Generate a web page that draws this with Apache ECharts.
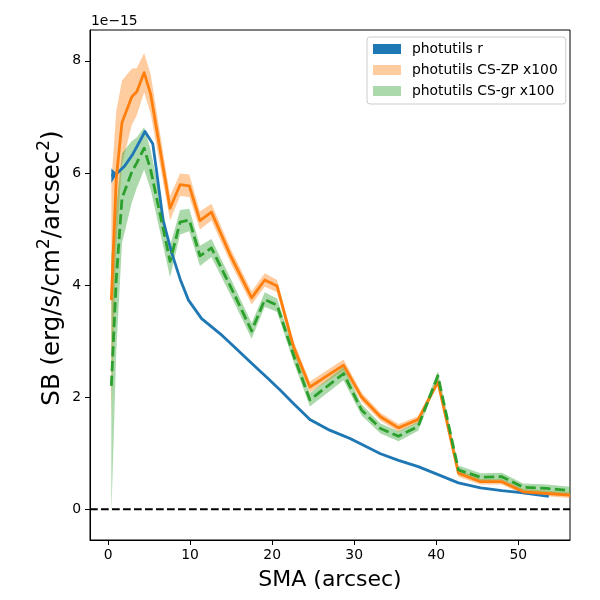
<!DOCTYPE html>
<html><head><meta charset="utf-8">
<script src="https://cdn.jsdelivr.net/npm/echarts@6/dist/echarts.min.js"></script>
<style>html,body{margin:0;padding:0;background:#fff}#c{width:600px;height:600px}</style>
</head><body><div id="c"></div>
<script>
// SMA (arcsec) for the CS profiles
const smaCS = [0.4, 1.0, 1.7, 2.9, 3.5, 4.4, 5.2, 7.56, 8.78, 9.9, 11.2, 12.6, 15.0, 17.5, 19.1, 20.6, 22.6, 24.6, 28.7, 30.9, 33.2, 35.4, 37.8, 40.2, 42.7, 45.4, 48.0, 50.6, 53.5, 56.3];
// photutils CS-ZP x100 (units of 1e-15)
const sbZP = [3.73, 5.9, 6.9, 7.36, 7.45, 7.79, 7.4, 5.37, 5.79, 5.77, 5.15, 5.3, 4.5, 3.77, 4.09, 3.98, 2.9, 2.18, 2.57, 2.0, 1.65, 1.45, 1.6, 2.27, 0.64, 0.49, 0.49, 0.31, 0.28, 0.25];
const errZP = [2.1, 1.2, 0.75, 0.5, 0.42, 0.35, 0.35, 0.22, 0.2, 0.2, 0.16, 0.15, 0.13, 0.12, 0.12, 0.11, 0.1, 0.1, 0.1, 0.08, 0.07, 0.07, 0.06, 0.06, 0.06, 0.05, 0.05, 0.05, 0.05, 0.05];
// photutils CS-gr x100
const sbGR = [2.2, 4.1, 5.55, 6.02, 6.18, 6.44, 6.05, 4.42, 5.12, 5.16, 4.52, 4.66, 3.95, 3.18, 3.74, 3.64, 2.75, 1.95, 2.42, 1.77, 1.44, 1.3, 1.48, 2.38, 0.7, 0.57, 0.58, 0.39, 0.37, 0.33];
const errGR = [2.3, 1.3, 0.8, 0.55, 0.45, 0.38, 0.35, 0.28, 0.22, 0.2, 0.18, 0.16, 0.15, 0.14, 0.13, 0.12, 0.12, 0.12, 0.12, 0.1, 0.09, 0.09, 0.08, 0.08, 0.08, 0.07, 0.07, 0.07, 0.07, 0.07];
// photutils r
const smaR = [0.4, 1.0, 2.0, 3.0, 4.0, 4.5, 5.45, 5.9, 6.7, 7.77, 8.8, 9.8, 11.4, 13.9, 15.5, 17.3, 19.5, 21.0, 22.5, 24.6, 27.0, 29.5, 33.2, 35.4, 37.8, 40.0, 42.7, 45.4, 48.0, 50.6, 53.7];
const sbR = [5.95, 5.98, 6.12, 6.33, 6.6, 6.74, 6.52, 6.05, 5.16, 4.57, 4.1, 3.73, 3.4, 3.1, 2.88, 2.63, 2.33, 2.12, 1.9, 1.6, 1.41, 1.26, 0.99, 0.87, 0.76, 0.63, 0.47, 0.38, 0.33, 0.29, 0.23];
const errR = [0.13, 0.02, 0.02, 0.02, 0.02, 0.02, 0.02, 0.02, 0.02, 0.02, 0.02, 0.02, 0.02, 0.02, 0.02, 0.02, 0.02, 0.02, 0.02, 0.02, 0.02, 0.02, 0.01, 0.01, 0.01, 0.01, 0.01, 0.01, 0.01, 0.01, 0.01];
const xTicks = [0, 10, 20, 30, 40, 50];
const yTicks = [0, 2, 4, 6, 8];
const legendNames = ['photutils r', 'photutils CS-ZP x100', 'photutils CS-gr x100'];

const X_MIN = -2.2, X_MAX = 56.3, Y_MIN = -0.55, Y_MAX = 8.55;
const FONT = 'DejaVu Sans';
const C_BLUE = '#1f77b4', C_ORANGE = '#ff7f0e', C_GREEN = '#2ca02c';

function bandSeries(name, color, xs, ys, es) {
  const data = xs.map((x, i) => [x, ys[i] - es[i], ys[i] + es[i]]);
  return {
    type: 'custom', name: name, silent: true, clip: true,
    itemStyle: { color: color },
    encode: { x: 0, y: [1, 2] },
    data: data,
    renderItem: function (params, api) {
      if (params.dataIndex !== 0) return null;
      const upper = data.map(d => api.coord([d[0], d[2]]));
      const lower = data.map(d => api.coord([d[0], d[1]])).reverse();
      return { type: 'polygon', shape: { points: upper.concat(lower) }, style: { fill: color } };
    }
  };
}
function lineSeries(name, color, xs, ys, dash) {
  return {
    type: 'line', name: name, silent: true, symbol: 'none', showSymbol: false,
    data: xs.map((x, i) => [x, ys[i]]),
    lineStyle: { color: color, width: 2.8, type: dash || 'solid', cap: 'butt', join: 'round' },
    emphasis: { disabled: true }
  };
}

const chart = echarts.init(document.getElementById('c'), null, { renderer: 'canvas' });
const zeroLine = lineSeries('zero', '#000', [X_MIN, X_MAX], [0, 0]);
zeroLine.lineStyle.width = 2.1;
zeroLine.lineStyle.type = [7.7, 3.3];

const labelRich = {
  b: { fontSize: 24.5, fontFamily: FONT, color: '#000', lineHeight: 29, verticalAlign: 'bottom' },
  s: { fontSize: 17, fontFamily: FONT, color: '#000', lineHeight: 29, verticalAlign: 'top' }
};

chart.setOption({
  animation: false,
  backgroundColor: '#fff',
  grid: { left: 90, right: 30, top: 30, bottom: 60, show: true, borderColor: '#000', borderWidth: 1, backgroundColor: 'transparent' },
  xAxis: {
    type: 'value', min: X_MIN, max: X_MAX,
    axisLine: { show: true, onZero: false, lineStyle: { color: '#000', width: 1 } },
    axisTick: { show: true, customValues: xTicks, length: 5, lineStyle: { color: '#000', width: 1 } },
    axisLabel: { show: true, customValues: xTicks, color: '#000', fontSize: 13.9, fontFamily: FONT, margin: 8 },
    splitLine: { show: false }
  },
  yAxis: {
    type: 'value', min: Y_MIN, max: Y_MAX,
    axisLine: { show: true, onZero: false, lineStyle: { color: '#000', width: 1 } },
    axisTick: { show: true, customValues: yTicks, length: 5, lineStyle: { color: '#000', width: 1 } },
    axisLabel: { show: true, customValues: yTicks, color: '#000', fontSize: 13.9, fontFamily: FONT, margin: 9 },
    splitLine: { show: false }
  },
  legend: {
    orient: 'vertical', left: 367, top: 37,
    padding: [5, 8, 6, 6],
    itemWidth: 28, itemHeight: 10, itemGap: 7,
    icon: 'rect',
    backgroundColor: 'rgba(255,255,255,0.8)',
    borderColor: '#cccccc', borderWidth: 1, borderRadius: 3,
    textStyle: { color: '#000', fontSize: 13.9, fontFamily: FONT, lineHeight: 14, padding: [0, 0, 0, 6] },
    selectedMode: false,
    data: [
      { name: legendNames[0], icon: 'rect', itemStyle: { color: C_BLUE } },
      { name: legendNames[1], icon: 'rect', itemStyle: { color: 'rgba(255,127,14,0.4)' } },
      { name: legendNames[2], icon: 'rect', itemStyle: { color: 'rgba(44,160,44,0.4)' } }
    ]
  },
  graphic: [
    { type: 'text', x: 91, y: 21, style: { text: '1e\u221215', font: '13.9px "DejaVu Sans"', fill: '#000', align: 'left', verticalAlign: 'middle' } },
    { type: 'text', x: 330, y: 580, style: { text: 'SMA (arcsec)', font: '22px "DejaVu Sans"', fill: '#000', align: 'center', verticalAlign: 'middle' } },
    { type: 'text', x: 51, y: 268, rotation: Math.PI / 2, style: {
        text: '{b|SB (erg/s/cm}{s|2}{b|/arcsec}{s|2}{b|)}',
        rich: labelRich, align: 'center', verticalAlign: 'middle' } }
  ],
  series: [
    bandSeries(legendNames[1], 'rgba(255,127,14,0.4)', smaCS, sbZP, errZP),
    bandSeries(legendNames[2], 'rgba(44,160,44,0.4)', smaCS, sbGR, errGR),
    bandSeries(legendNames[0], C_BLUE, smaR, sbR, errR),
    lineSeries('r line', C_BLUE, smaR, sbR),
    lineSeries('ZP line', C_ORANGE, smaCS, sbZP),
    lineSeries('gr line', C_GREEN, smaCS, sbGR, [10.3, 4.4]),
    zeroLine
  ]
});
</script>
</body></html>
